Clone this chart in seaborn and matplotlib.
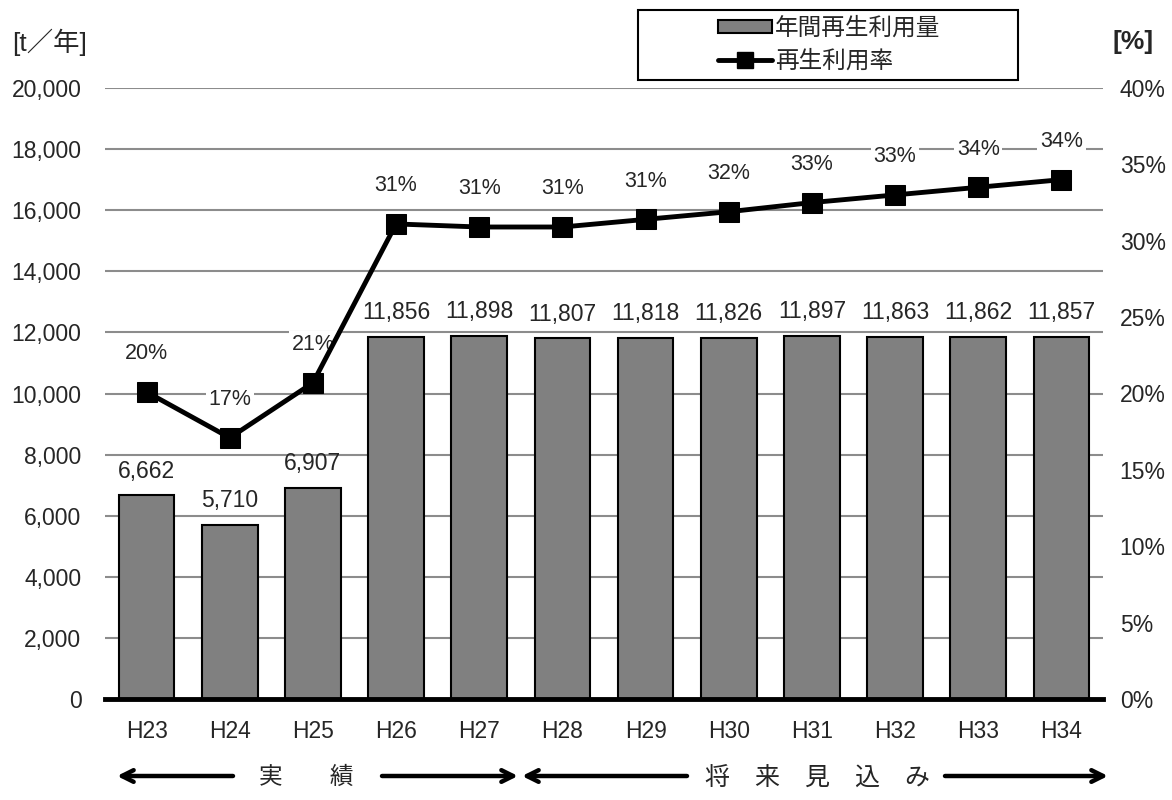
import numpy as np
import matplotlib
matplotlib.use("Agg")
import matplotlib.pyplot as plt
import seaborn as sns
from matplotlib.patches import Patch, Rectangle
from matplotlib.lines import Line2D
from matplotlib.ticker import FuncFormatter

# --- データ ---
years = ["H23", "H24", "H25", "H26", "H27", "H28", "H29", "H30", "H31", "H32", "H33", "H34"]
amounts = [6662, 5710, 6907, 11856, 11898, 11807, 11818, 11826, 11897, 11863, 11862, 11857]
rates = [20.1, 17.1, 20.7, 31.1, 30.9, 30.9, 31.4, 31.9, 32.5, 33.0, 33.5, 34.0]
rate_labels = ["20%", "17%", "21%", "31%", "31%", "31%", "31%", "32%", "33%", "33%", "34%", "34%"]

BAR_COLOR = "#808080"
GRID_COLOR = "#8c8c8c"
W, H = 1172, 800

sns.set_theme(style="white")
plt.rcParams['font.family'] = ['Liberation Sans', 'Noto Sans CJK JP']

fig = plt.figure(figsize=(W / 100, H / 100), dpi=100)
ax = fig.add_axes([105 / W, 1 - 699 / H, 998 / W, 611 / H])

# 棒グラフ (年間再生利用量)
sns.barplot(x=years, y=amounts, color=BAR_COLOR, edgecolor="black", linewidth=1.5,
            width=0.67, saturation=1, ax=ax, zorder=2)
ax.bar_label(ax.containers[0], labels=[f"{v:,}" for v in amounts], padding=9, fontsize=16.5)

ax.set_ylim(0, 20000)
ax.set_xlim(-0.5, len(years) - 0.5)
ax.set_yticks(range(0, 20001, 2000))
ax.yaxis.set_major_formatter(FuncFormatter(lambda v, p: f"{v:,.0f}"))
ax.yaxis.grid(True, color=GRID_COLOR, linewidth=1.5, zorder=0)
ax.set_axisbelow(True)
ax.tick_params(axis="y", length=0, pad=17, labelsize=16.5)
ax.tick_params(axis="x", length=0, pad=15, labelsize=16.5)
ax.set_xlabel("")
ax.set_ylabel("")
for s in ["left", "right", "top"]:
    ax.spines[s].set_visible(False)
ax.spines["bottom"].set_color("black")
ax.spines["bottom"].set_linewidth(3.5)
ax.spines["bottom"].set_zorder(5)

# 折れ線 (再生利用率)
ax2 = ax.twinx()
sns.lineplot(x=np.arange(len(years)), y=rates, ax=ax2, color="black", linewidth=3.5,
             marker="s", markersize=14, markeredgecolor="black", zorder=4)
ax2.set_ylim(0, 40)
ax2.set_yticks(range(0, 41, 5))
ax2.yaxis.set_major_formatter(FuncFormatter(lambda v, p: f"{v:.0f}%"))
ax2.tick_params(axis="y", length=0, pad=12, labelsize=16.5)
ax2.grid(False)
for s in ax2.spines.values():
    s.set_visible(False)
ax2.set_xlim(-0.5, len(years) - 0.5)

for i, (r, lab) in enumerate(zip(rates, rate_labels)):
    ax2.annotate(lab, (i, r), xytext=(0, 20), textcoords="offset points",
                 ha="center", va="bottom", fontsize=15.5,
                 bbox=dict(facecolor="white", edgecolor="none", pad=2))

# 単位
fig.text(12 / W, 1 - 42 / H, "[t／年]", fontsize=19, va="center", ha="left")
fig.text(1113 / W, 1 - 42 / H, "[%]", fontsize=19, fontweight="bold", va="center", ha="left")

# 凡例 (枠は別に描く)
fig.add_artist(Rectangle((638 / W, 1 - 80 / H), 380 / W, 70 / H, transform=fig.transFigure,
                         facecolor="white", edgecolor="black", linewidth=1.5, zorder=5))
handles = [Patch(facecolor=BAR_COLOR, edgecolor="black", linewidth=1.5),
           Line2D([], [], color="black", linewidth=3.5, marker="s", markersize=12)]
leg = fig.legend(handles, ["年間再生利用量", "再生利用率"], loc="center",
                 bbox_to_anchor=(829 / W, 1 - 45 / H), fontsize=17,
                 frameon=False, handlelength=2.3, handleheight=0.45, handletextpad=0.1,
                 borderpad=0, labelspacing=0.45, borderaxespad=0)
leg.set_zorder(6)
leg._legend_box.align = "left"

# 下部の矢印と区分
def arrow(x0, x1, y):
    ax.annotate("", xy=(x1 / W, 1 - y / H), xytext=(x0 / W, 1 - y / H),
                xycoords="figure fraction", textcoords="figure fraction",
                arrowprops=dict(arrowstyle="->,head_length=0.7,head_width=0.35",
                                lw=3.2, color="black", shrinkA=0, shrinkB=0))

arrow(233, 117, 776)
arrow(382, 518, 776)
arrow(687, 522, 776)
arrow(945, 1108, 776)
fig.text(306 / W, 1 - 778 / H, "実　　績", fontsize=17, ha="center", va="center")
fig.text(818 / W, 1 - 778 / H, "将　来　見　込　み", fontsize=18, ha="center", va="center")

fig.savefig("out.png", dpi=100)
